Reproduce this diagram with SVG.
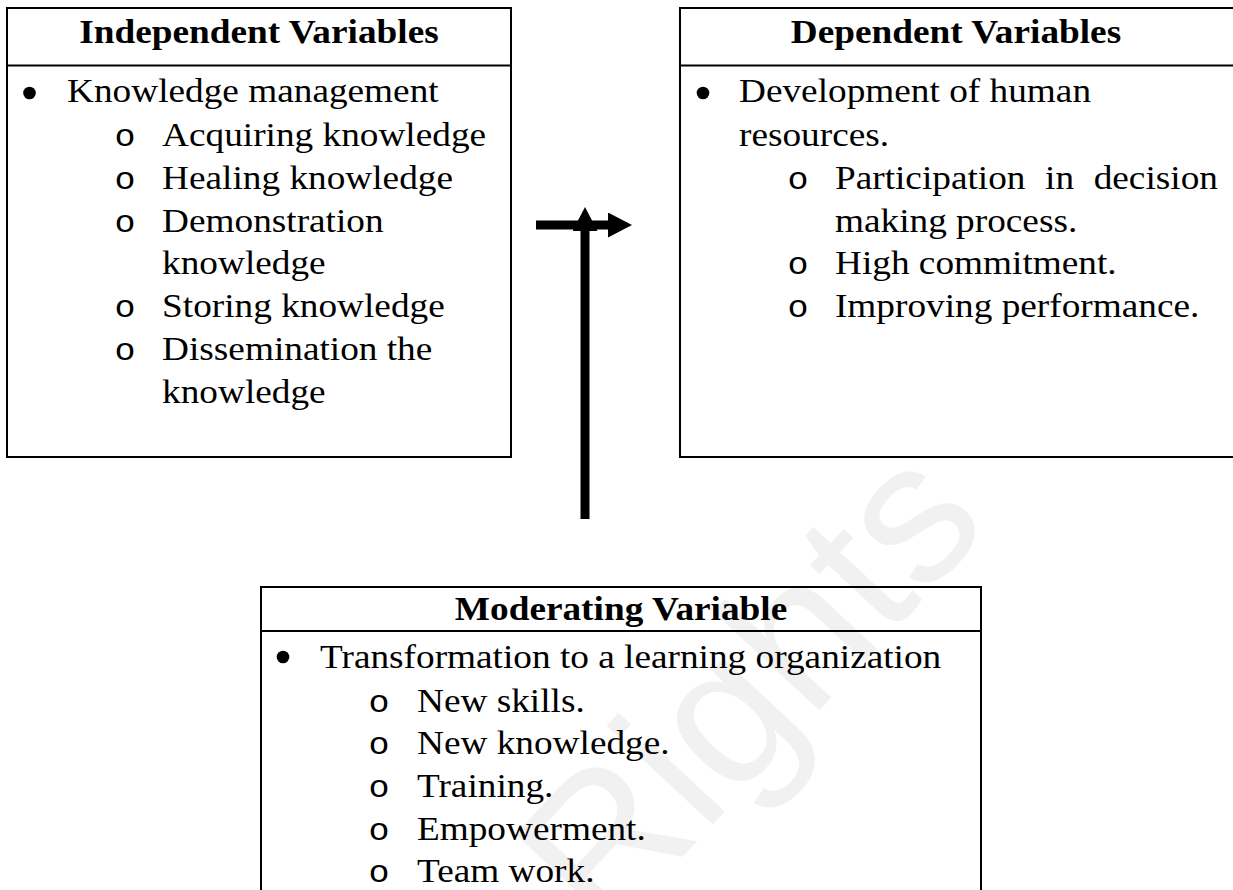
<svg xmlns="http://www.w3.org/2000/svg" width="1233" height="890" viewBox="0 0 1233 890">
  <style>
    .box { fill: none; stroke: #000; stroke-width: 2; }
    .rule { stroke: #000; stroke-width: 2; }
    .head { font-family: "Liberation Serif", "Times New Roman", serif; font-weight: bold; font-size: 33px; fill: #000; text-anchor: middle; }
    .item { font-family: "Liberation Serif", "Times New Roman", serif; font-size: 33px; fill: #000; }
    .sub { font-family: "Liberation Mono", "Courier New", monospace; font-size: 31px; fill: #000; text-anchor: middle; }
    .dot { fill: #000; }
    .link { stroke: #000; stroke-width: 9; fill: none; }
    .mark { font-family: "Liberation Sans", Arial, sans-serif; font-size: 200px; fill: #f1f1f1; }
  </style>
  <defs>
    <marker id="head" markerUnits="userSpaceOnUse" markerWidth="24" markerHeight="25" refX="0" refY="12.5" orient="auto">
      <path d="M0,0 L24,12.5 L0,25 z" fill="#000"/>
    </marker>
  </defs>

  <rect width="1233" height="890" fill="#fff"/>

  <!-- faint watermark behind the content -->
  <text class="mark" transform="translate(605,940) rotate(-47)">Rights</text>

  <!-- Independent variables -->
  <g id="independent">
    <rect class="box" x="7" y="8" width="504" height="449"/>
    <line class="rule" x1="7" y1="65.5" x2="511" y2="65.5"/>
    <circle class="dot" cx="29.5" cy="93" r="6.3"/>
    <g transform="scale(1.13 1)">
      <text class="head" x="229.2" y="43">Independent Variables</text>
      <text class="item" x="59.3" y="102">Knowledge management</text>
      <text class="sub" x="110.6" y="146">o</text>
      <text class="item" x="143.4" y="146">Acquiring knowledge</text>
      <text class="sub" x="110.6" y="189">o</text>
      <text class="item" x="143.4" y="189">Healing knowledge</text>
      <text class="sub" x="110.6" y="232">o</text>
      <text class="item" x="143.4" y="232">Demonstration</text>
      <text class="item" x="143.4" y="274">knowledge</text>
      <text class="sub" x="110.6" y="317">o</text>
      <text class="item" x="143.4" y="317">Storing knowledge</text>
      <text class="sub" x="110.6" y="360">o</text>
      <text class="item" x="143.4" y="360">Dissemination the</text>
      <text class="item" x="143.4" y="403">knowledge</text>
    </g>
  </g>

  <!-- Dependent variables (runs past the right edge) -->
  <g id="dependent">
    <rect class="box" x="680" y="8" width="580" height="449"/>
    <line class="rule" x1="680" y1="65.5" x2="1240" y2="65.5"/>
    <circle class="dot" cx="703" cy="93" r="6.3"/>
    <g transform="scale(1.13 1)">
      <text class="head" x="846" y="43">Dependent Variables</text>
      <text class="item" x="654" y="102">Development of human</text>
      <text class="item" x="654" y="146">resources.</text>
      <text class="sub" x="706.2" y="189">o</text>
      <text class="item" x="738.9" y="189" word-spacing="9.1">Participation in decision</text>
      <text class="item" x="738.9" y="232">making process.</text>
      <text class="sub" x="706.2" y="274">o</text>
      <text class="item" x="738.9" y="274">High commitment.</text>
      <text class="sub" x="706.2" y="317">o</text>
      <text class="item" x="738.9" y="317">Improving performance.</text>
    </g>
  </g>

  <!-- Moderating variable (runs past the bottom edge) -->
  <g id="moderating">
    <rect class="box" x="261" y="587" width="720" height="320"/>
    <line class="rule" x1="261" y1="631" x2="981" y2="631"/>
    <circle class="dot" cx="283" cy="657" r="6.3"/>
    <g transform="scale(1.13 1)">
      <text class="head" x="549.6" y="620">Moderating Variable</text>
      <text class="item" x="283.2" y="668">Transformation to a learning organization</text>
      <text class="sub" x="335.4" y="712">o</text>
      <text class="item" x="369" y="712">New skills.</text>
      <text class="sub" x="335.4" y="754">o</text>
      <text class="item" x="369" y="754">New knowledge.</text>
      <text class="sub" x="335.4" y="797">o</text>
      <text class="item" x="369" y="797">Training.</text>
      <text class="sub" x="335.4" y="840">o</text>
      <text class="item" x="369" y="840">Empowerment.</text>
      <text class="sub" x="335.4" y="882">o</text>
      <text class="item" x="369" y="882">Team work.</text>
    </g>
  </g>

  <!-- Connectors -->
  <g id="connectors">
    <line class="link" x1="536" y1="225" x2="608" y2="225" marker-end="url(#head)"/>
    <line class="link" x1="585" y1="519" x2="585" y2="231" marker-end="url(#head)"/>
  </g>
</svg>
